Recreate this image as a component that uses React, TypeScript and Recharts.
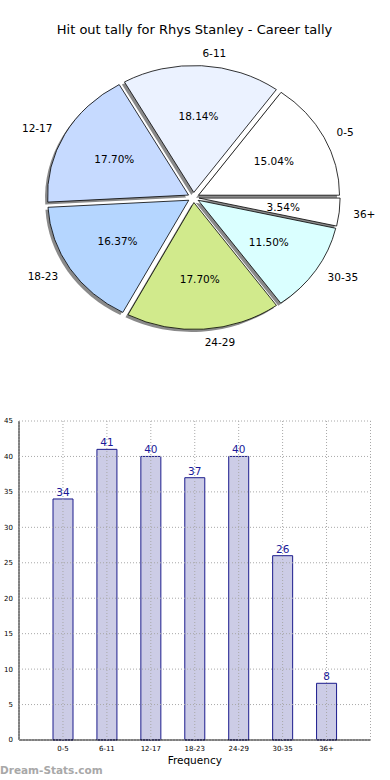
import React from 'react';
import {
  PieChart,
  Pie,
  Cell,
  BarChart,
  Bar,
  XAxis,
  YAxis,
  CartesianGrid,
  LabelList,
} from 'recharts';

const ranges = ['0-5', '6-11', '12-17', '18-23', '24-29', '30-35', '36+'];
const counts = [34, 41, 40, 37, 40, 26, 8];
const sliceColors = ['#FFFFFF', '#EBF2FF', '#C6DAFF', '#B5D6FF', '#D1EA8C', '#DAFFFF', '#FFFFFF'];
const yTicks = [0, 5, 10, 15, 20, 25, 30, 35, 40, 45];

const pieData = ranges.map((r, i) => ({ name: r, value: counts[i] }));
const barData = ranges.map((r, i) => ({ range: r, count: counts[i] }));

const FONT = '"DejaVu Sans", sans-serif';
const Y_RATIO = 0.9; // the matplotlib pie is squashed vertically
const EXPLODE = 0.04;
const RAD = Math.PI / 180;

// elliptical wedge, pushed out along its middle angle
const wedgePath = (cx: number, cy: number, r: number, a1: number, a2: number) => {
  const rx = r;
  const ry = r * Y_RATIO;
  const mid = ((a1 + a2) / 2) * RAD;
  const x0 = cx + EXPLODE * rx * Math.cos(mid);
  const y0 = cy - EXPLODE * ry * Math.sin(mid);
  const p1x = x0 + rx * Math.cos(a1 * RAD);
  const p1y = y0 - ry * Math.sin(a1 * RAD);
  const p2x = x0 + rx * Math.cos(a2 * RAD);
  const p2y = y0 - ry * Math.sin(a2 * RAD);
  const large = Math.abs(a2 - a1) > 180 ? 1 : 0;
  return `M${x0},${y0} L${p1x},${p1y} A${rx},${ry} 0 ${large} 0 ${p2x},${p2y} Z`;
};

const Wedge = (props: any) => {
  const { cx, cy, outerRadius, startAngle, endAngle, fill } = props;
  return (
    <path
      d={wedgePath(cx, cy, outerRadius, startAngle, endAngle)}
      fill={fill}
      stroke="#000"
      strokeWidth={0.8}
    />
  );
};

const ShadowWedge = (props: any) => {
  const { cx, cy, outerRadius, startAngle, endAngle } = props;
  return (
    <path
      d={wedgePath(cx - 2.5, cy + 2.5, outerRadius, startAngle, endAngle)}
      fill="#8a8a8a"
      stroke="none"
    />
  );
};

const renderLabels = (props: any) => {
  const { cx, cy, midAngle, outerRadius, percent, name } = props;
  const rx = outerRadius;
  const ry = outerRadius * Y_RATIO;
  const c = Math.cos(midAngle * RAD);
  const s = Math.sin(midAngle * RAD);
  const x0 = cx + EXPLODE * rx * c;
  const y0 = cy - EXPLODE * ry * s;
  return (
    <g>
      <text
        x={x0 + 1.1 * rx * c}
        y={y0 - 1.1 * ry * s}
        textAnchor={c > 0 ? 'start' : 'end'}
        dominantBaseline="central"
        fontSize={10.5}
        fill="#000"
      >
        {name}
      </text>
      <text
        x={x0 + 0.6 * rx * c}
        y={y0 - 0.6 * ry * s}
        textAnchor="middle"
        dominantBaseline="central"
        fontSize={10.5}
        fill="#000"
      >
        {(percent * 100).toFixed(2)}%
      </text>
    </g>
  );
};

export default function App() {
  return (
    <div
      style={{
        position: 'absolute',
        left: 0,
        top: 0,
        width: 390,
        height: 780,
        background: '#fff',
        fontFamily: FONT,
      }}
    >
      <div
        style={{
          position: 'absolute',
          top: 22,
          left: 0,
          width: 389,
          textAlign: 'center',
          fontSize: 13,
          lineHeight: '16px',
          color: '#000',
        }}
      >
        Hit out tally for Rhys Stanley - Career tally
      </div>

      <div style={{ position: 'absolute', top: 0, left: 0 }}>
        <PieChart width={390} height={360} margin={{ top: 0, right: 0, bottom: 0, left: 0 }} style={{ fontFamily: FONT }}>
          <Pie
            data={pieData}
            dataKey="value"
            nameKey="name"
            cx={193.5}
            cy={197.5}
            outerRadius={141}
            startAngle={0}
            endAngle={360}
            shape={ShadowWedge}
            isAnimationActive={false}
          />
          <Pie
            data={pieData}
            dataKey="value"
            nameKey="name"
            cx={193.5}
            cy={197.5}
            outerRadius={141}
            startAngle={0}
            endAngle={360}
            shape={Wedge}
            label={renderLabels}
            labelLine={false}
            isAnimationActive={false}
          >
            {pieData.map((d, i) => (
              <Cell key={d.name} fill={sliceColors[i]} />
            ))}
          </Pie>
        </PieChart>
      </div>

      <div style={{ position: 'absolute', top: 400, left: 0 }}>
        <BarChart
          width={390}
          height={380}
          data={barData}
          margin={{ top: 21, right: 19.5, bottom: 0, left: 0 }}
          style={{ fontFamily: FONT }}
        >
          <XAxis
            dataKey="range"
            padding={{ left: 22, right: 22 }}
            height={40}
            tick={{ fontSize: 7, fill: '#000' }}
            tickLine={false}
            tickSize={4}
            axisLine={{ stroke: '#000' }}
            interval={0}
            label={{ value: 'Frequency', position: 'insideBottom', offset: 16, fontSize: 10.5, fill: '#000' }}
          />
          <XAxis
            xAxisId="top"
            dataKey="range"
            orientation="top"
            height={0}
            tick={false}
            tickLine={false}
            axisLine={{ stroke: '#000' }}
          />
          <YAxis
            width={19}
            domain={[0, 45]}
            ticks={yTicks}
            tick={{ fontSize: 7, fill: '#000' }}
            tickLine={false}
            tickSize={4}
            axisLine={{ stroke: '#000' }}
          />
          <YAxis
            yAxisId="right"
            orientation="right"
            width={0}
            domain={[0, 45]}
            tick={false}
            tickLine={false}
            axisLine={{ stroke: '#000' }}
          />
          <Bar
            dataKey="count"
            fill="#CCCCE6"
            stroke="#1a1a8c"
            strokeWidth={1}
            barSize={20}
            isAnimationActive={false}
          >
            <LabelList dataKey="count" position="top" offset={3} fill="#1a1a99" fontSize={10.5} />
          </Bar>
          <CartesianGrid stroke="#a8a8a8" strokeDasharray="1 2" zIndex={1000} />
        </BarChart>
      </div>

      <div
        style={{
          position: 'absolute',
          left: 0,
          top: 762,
          fontSize: 10.5,
          fontWeight: 'bold',
          color: '#a8a8a8',
          lineHeight: '16px',
        }}
      >
        Dream-Stats.com
      </div>
    </div>
  );
}
